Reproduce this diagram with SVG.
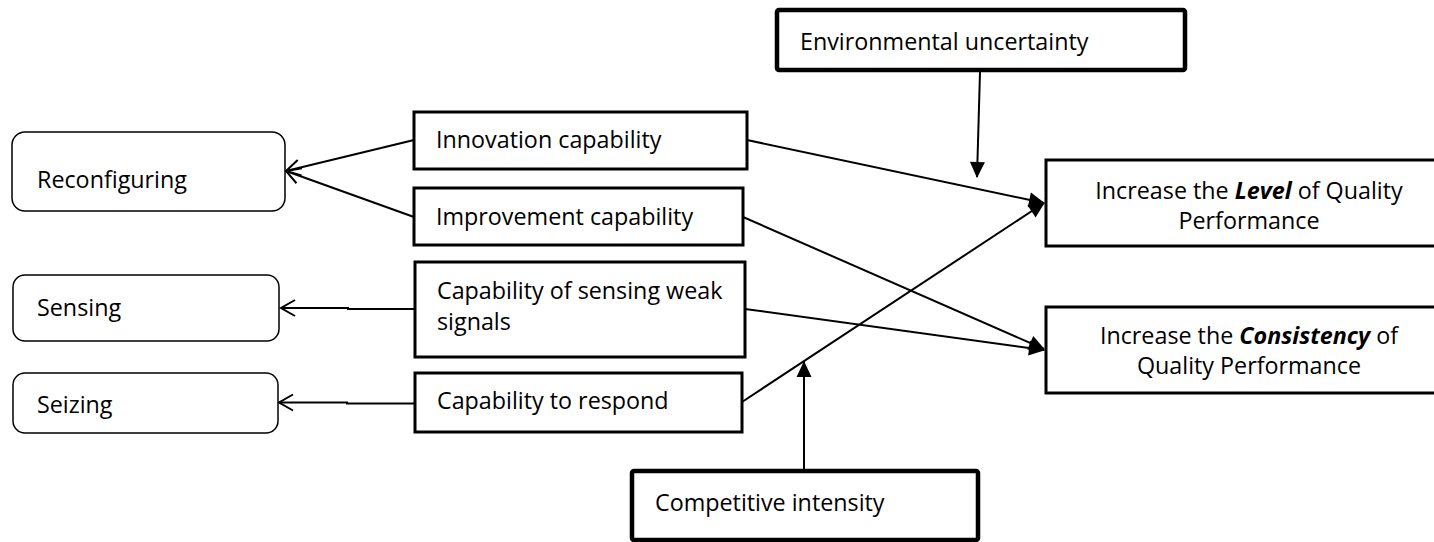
<svg xmlns="http://www.w3.org/2000/svg" width="1434" height="542" viewBox="0 0 1434 542">
<style>
text{font-family:"Open Sans","Liberation Sans",sans-serif;font-size:23.3px;fill:#000}
.rbox{fill:#fff;stroke:#000;stroke-width:1.5}
.mbox{fill:#fff;stroke:#000;stroke-width:3}
.tbox{fill:#fff;stroke:#000;stroke-width:4.5}
.con{fill:none;stroke:#000;stroke-width:2}
.open{marker-end:url(#openArrow)}
.fill{marker-end:url(#fillArrow)}
.c{text-anchor:middle}
.bi{font-weight:bold;font-style:italic}
</style>
<defs>
<marker id="openArrow" markerUnits="userSpaceOnUse" markerWidth="30" markerHeight="30" refX="0" refY="0" viewBox="-2 -15 30 30" orient="auto-start-reverse" overflow="visible">
<path d="M-14,-8 L0,0 L-14,8" fill="none" stroke="#000" stroke-width="2"/>
</marker>
<marker id="fillArrow" markerUnits="userSpaceOnUse" markerWidth="30" markerHeight="30" refX="0" refY="0" viewBox="-20 -15 30 30" orient="auto" overflow="visible">
<path d="M-15,-7.5 L1,0 L-15,7.5 Z" fill="#000" stroke="none"/>
</marker>
</defs>
<rect width="1434" height="542" fill="#fff"/>

<g id="connectors">
<path class="con open" d="M414,140 L286,171"/>
<path class="con open" d="M414,217 L286,171"/>
<path class="con open" d="M415,309 H348 V308 H281"/>
<path class="con open" d="M415,403.5 H347 V402.5 H279"/>
<path class="con fill" d="M747,140 L1044,203"/>
<path class="con fill" d="M742,402 L1044,203"/>
<path class="con fill" d="M743,217 L1044,349"/>
<path class="con fill" d="M745,309 L1044,350"/>
<path class="con fill" d="M980,72 L977,177"/>
<path class="con fill" d="M804,469 L804,362"/>
</g>

<g id="reconfiguring">
<rect class="rbox" x="12" y="132" width="273" height="79" rx="13"/>
<text x="37" y="188">Reconfiguring</text>
</g>
<g id="sensing">
<rect class="rbox" x="13" y="275" width="266" height="66" rx="12"/>
<text x="37" y="316">Sensing</text>
</g>
<g id="seizing">
<rect class="rbox" x="13" y="373" width="265" height="60" rx="12"/>
<text x="37" y="413">Seizing</text>
</g>

<g id="innovation">
<rect class="mbox" x="414" y="112" width="333" height="57"/>
<text x="436" y="148">Innovation capability</text>
</g>
<g id="improvement">
<rect class="mbox" x="414" y="188" width="329" height="57"/>
<text x="436" y="225">Improvement capability</text>
</g>
<g id="sensing-weak">
<rect class="mbox" x="415" y="262" width="330" height="95"/>
<text x="437" y="299">Capability of sensing weak</text>
<text x="437" y="330">signals</text>
</g>
<g id="respond">
<rect class="mbox" x="415" y="373" width="327" height="59"/>
<text x="437" y="409">Capability to respond</text>
</g>

<g id="environmental">
<rect class="tbox" x="777" y="10" width="408" height="60" rx="2"/>
<text x="800" y="50">Environmental uncertainty</text>
</g>
<g id="competitive">
<rect class="tbox" x="632" y="471" width="346" height="69" rx="2"/>
<text x="655" y="511">Competitive intensity</text>
</g>

<g id="level">
<rect class="mbox" x="1046" y="160" width="400" height="86"/>
<text class="c" x="1249" y="199">Increase the <tspan class="bi">Level</tspan> of Quality</text>
<text class="c" x="1249" y="229">Performance</text>
</g>
<g id="consistency">
<rect class="mbox" x="1046" y="307" width="400" height="86"/>
<text class="c" x="1249" y="344">Increase the <tspan class="bi">Consistency</tspan> of</text>
<text class="c" x="1249" y="374">Quality Performance</text>
</g>
</svg>
